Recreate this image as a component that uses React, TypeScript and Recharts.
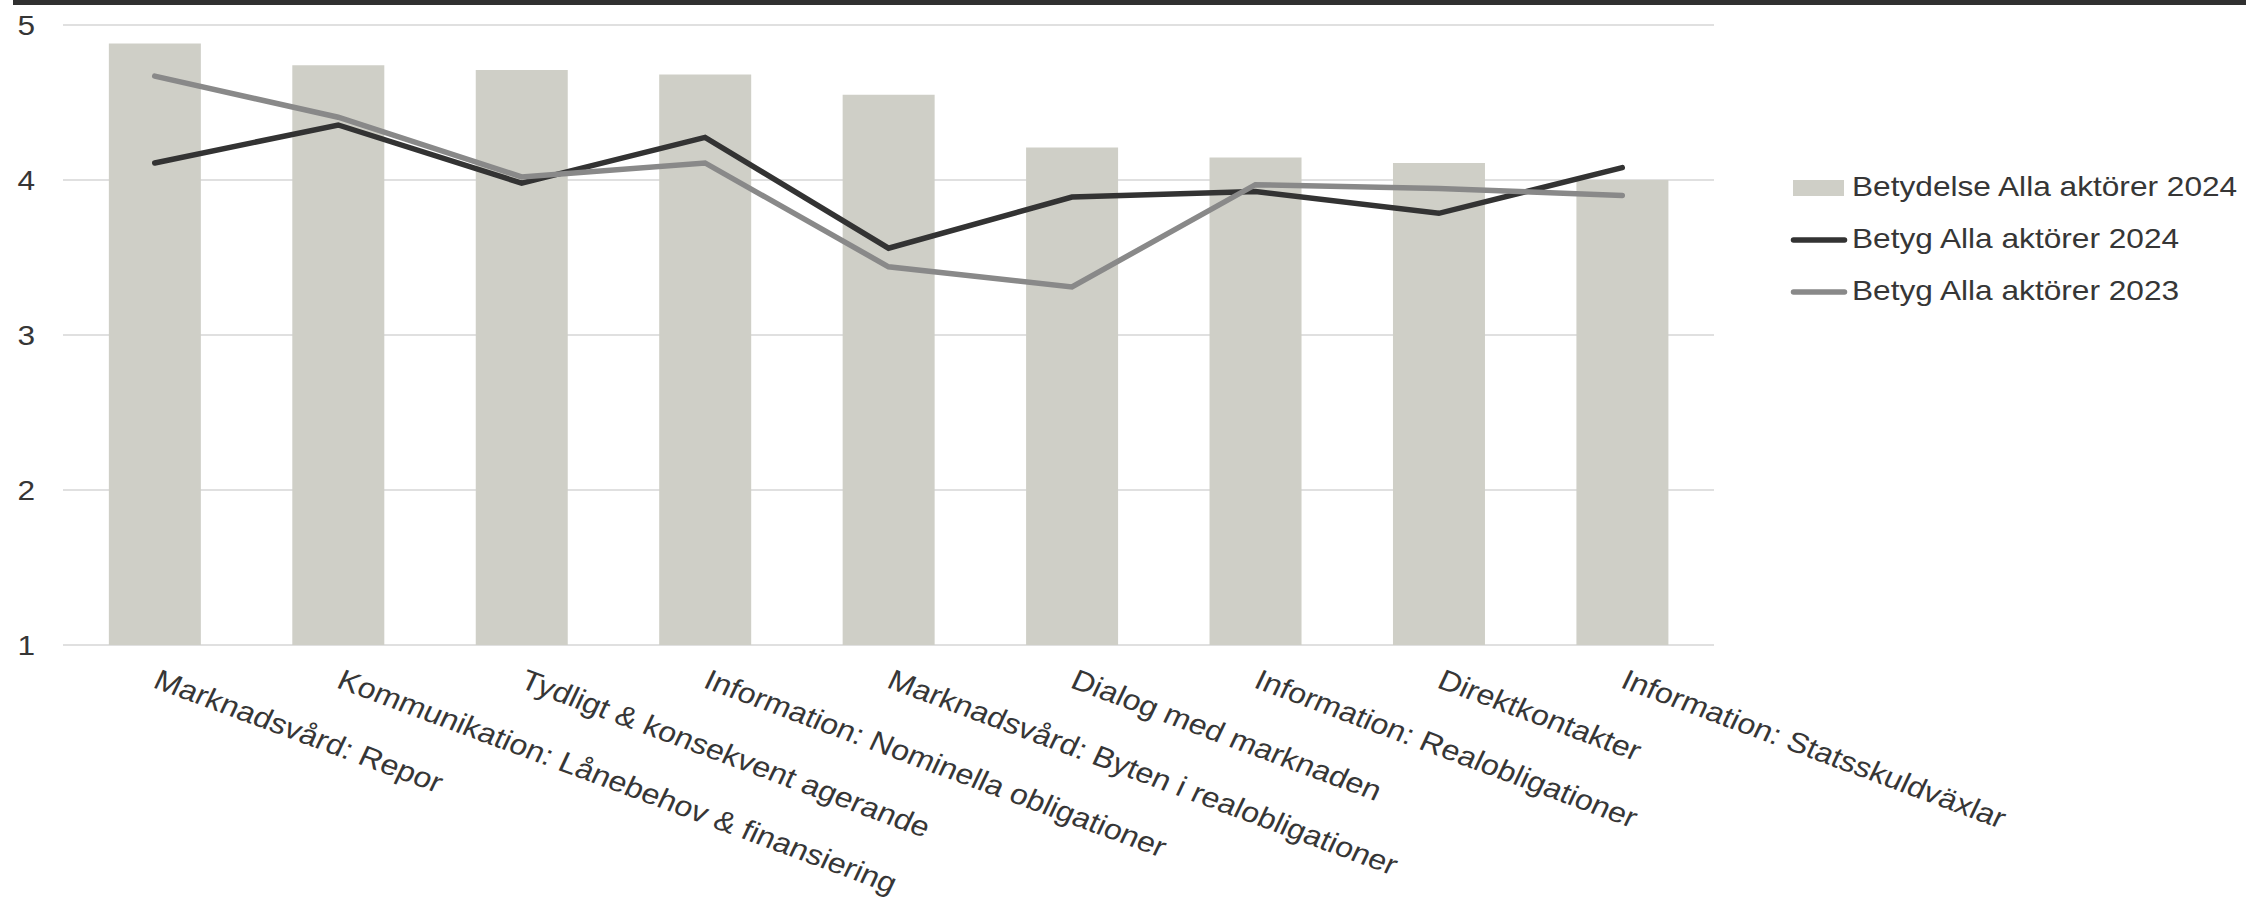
import React from 'react';
import { ComposedChart, Bar, Line, XAxis, YAxis, CartesianGrid } from 'recharts';

const categories = [
  'Marknadsvård: Repor',
  'Kommunikation: Lånebehov & finansiering',
  'Tydligt & konsekvent agerande',
  'Information: Nominella obligationer',
  'Marknadsvård: Byten i realobligationer',
  'Dialog med marknaden',
  'Information: Realobligationer',
  'Direktkontakter',
  'Information: Statsskuldväxlar',
];

const betydelse2024 = [4.88, 4.74, 4.71, 4.68, 4.55, 4.21, 4.145, 4.11, 4.0];
const betyg2024 = [4.11, 4.355, 3.98, 4.275, 3.56, 3.89, 3.925, 3.785, 4.08];
const betyg2023 = [4.67, 4.405, 4.02, 4.11, 3.44, 3.31, 3.97, 3.945, 3.9];

const yTicks = [1, 2, 3, 4, 5];

const FONT = '"Liberation Sans", Arial, Helvetica, sans-serif';
const TEXT = '#363636';
const BAR = '#cfcfc7';
const DARK = '#333333';
const GRAY = '#898989';
// the source picture looks stretched sideways a bit
const STRETCH = 1.13;

const data = categories.map((name, i) => ({
  name,
  betydelse: betydelse2024[i],
  betyg24: betyg2024[i],
  betyg23: betyg2023[i],
}));

const XTick = (props: any) => {
  const { x, y, payload } = props;
  return (
    <g transform={`translate(${x - 3},${y + 34})`}>
      <text
        transform={`scale(${STRETCH},1) rotate(22.8)`}
        textAnchor="start"
        fontSize={28.5}
        fontFamily={FONT}
        fill={TEXT}
      >
        {payload.value}
      </text>
    </g>
  );
};

const YTick = (props: any) => {
  const { y, payload } = props;
  return (
    <g transform={`translate(35,${y + 10})`}>
      <text transform={`scale(${STRETCH},1)`} textAnchor="end" fontSize={28} fontFamily={FONT} fill={TEXT}>
        {payload.value}
      </text>
    </g>
  );
};

const legendRows = [
  { label: 'Betydelse Alla aktörer 2024', kind: 'bar', color: BAR },
  { label: 'Betyg Alla aktörer 2024', kind: 'line', color: DARK },
  { label: 'Betyg Alla aktörer 2023', kind: 'line', color: GRAY },
];

const ChartLegend = () => (
  <div
    style={{
      position: 'absolute',
      left: 1788,
      top: 162,
      fontFamily: FONT,
      fontSize: 28,
      color: TEXT,
    }}
  >
    {legendRows.map((r) => (
      <div key={r.label} style={{ display: 'flex', alignItems: 'center', height: 52 }}>
        <svg width={64} height={52} style={{ flex: 'none' }}>
          {r.kind === 'bar' ? (
            <rect x={5} y={18} width={51} height={16} fill={r.color} />
          ) : (
            <line x1={5.5} x2={56.5} y1={26} y2={26} stroke={r.color} strokeWidth={5.5} strokeLinecap="round" />
          )}
        </svg>
        <span
          style={{
            display: 'inline-block',
            whiteSpace: 'nowrap',
            transform: `scaleX(${STRETCH})`,
            transformOrigin: 'left center',
            marginTop: -3,
          }}
        >
          {r.label}
        </span>
      </div>
    ))}
  </div>
);

export default function App() {
  return (
    <div
      style={{
        position: 'absolute',
        left: 0,
        top: 0,
        width: 2246,
        height: 903,
        background: '#ffffff',
        overflow: 'hidden',
      }}
    >
      <div style={{ position: 'absolute', left: 13, top: 0, width: 2233, height: 5, background: '#303030' }} />
      <ComposedChart
        width={2246}
        height={903}
        data={data}
        margin={{ top: 25, right: 532, bottom: 8, left: 0 }}
        barCategoryGap="25%"
      >
        <CartesianGrid horizontal vertical={false} stroke="#e0e0e0" strokeWidth={2} />
        <XAxis
          dataKey="name"
          interval={0}
          height={250}
          axisLine={false}
          tickLine={false}
          tick={<XTick />}
        />
        <YAxis
          domain={[1, 5]}
          ticks={yTicks}
          width={63}
          axisLine={false}
          tickLine={false}
          tick={<YTick />}
        />
        <Bar dataKey="betydelse" fill={BAR} isAnimationActive={false} />
        <Line
          type="linear"
          dataKey="betyg24"
          stroke={DARK}
          strokeWidth={5.5}
          strokeLinecap="round"
          dot={false}
          activeDot={false}
          isAnimationActive={false}
        />
        <Line
          type="linear"
          dataKey="betyg23"
          stroke={GRAY}
          strokeWidth={5.5}
          strokeLinecap="round"
          dot={false}
          activeDot={false}
          isAnimationActive={false}
        />
      </ComposedChart>
      <ChartLegend />
    </div>
  );
}
